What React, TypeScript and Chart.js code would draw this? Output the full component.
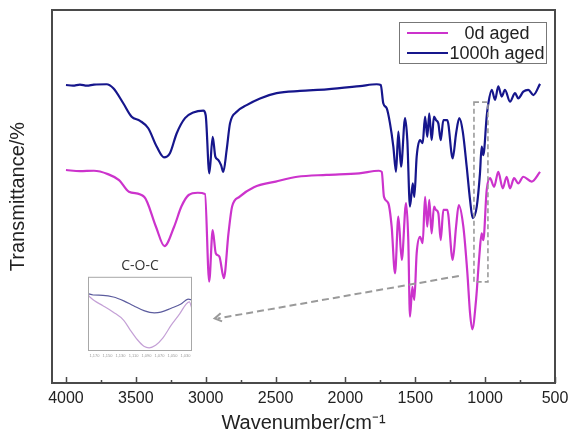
import React, { useEffect, useRef } from "react";
import { Chart, registerables } from "chart.js";

Chart.register(...registerables);

// ---------- data ----------
const seriesLabels = ["0d aged", "1000h aged"];

const wavenumbers0d = [
  4000, 3900, 3800, 3700, 3620, 3550, 3440, 3356, 3295, 3226, 3174, 3122, 3057, 3005,
  2975, 2950, 2928, 2902, 2870, 2837, 2811, 2759, 2655, 2499, 2344, 2136, 1902, 1760,
  1740, 1724, 1693, 1669, 1645, 1621, 1597, 1566, 1550, 1538, 1521, 1507, 1490, 1466,
  1447, 1430, 1414, 1400, 1383, 1366, 1352, 1335, 1318, 1299, 1271, 1232, 1208, 1189,
  1156, 1127, 1108, 1092, 1065, 1042, 1025, 1013, 989, 965, 936, 906, 874, 846, 822,
  793, 763, 727, 667, 607,
];
const values0d = [
  57.1, 56.8, 56.9, 56.0, 54.4, 51.3, 49.9, 41.9, 36.7, 41.9, 47.3, 50.4, 51.0, 50.7,
  27.2, 41.0, 34.8, 33.9, 28.1, 40.1, 47.3, 49.9, 52.5, 54.0, 55.3, 55.8, 56.2, 56.9,
  56.6, 49.9, 48.2, 41.9, 29.4, 44.6, 33.0, 48.2, 38.3, 17.8, 25.8, 22.3, 34.8, 39.2,
  37.5, 49.9, 41.9, 49.1, 40.1, 47.3, 46.4, 45.5, 38.3, 46.4, 46.4, 33.0, 41.9, 47.7,
  41.9, 29.4, 18.7, 14.4, 22.3, 33.9, 40.1, 38.3, 51.7, 54.9, 52.6, 56.6, 52.2, 55.3, 52.2,
  54.9, 53.5, 55.3, 54.0, 56.6,
];

const wavenumbers1000h = [
  4000, 3950, 3900, 3850, 3800, 3709, 3661, 3590, 3530, 3470, 3411, 3351, 3299, 3256,
  3208, 3148, 3089, 3017, 3000, 2974, 2950, 2931, 2910, 2890, 2874, 2850, 2826, 2778,
  2707, 2611, 2492, 2325, 2134, 1896, 1776, 1747, 1729, 1704, 1681, 1657, 1638, 1621,
  1602, 1573, 1557, 1538, 1518, 1507, 1490, 1466, 1447, 1430, 1414, 1400, 1383, 1366,
  1352, 1335, 1318, 1299, 1271, 1232, 1208, 1185, 1160, 1132, 1108, 1089, 1060, 1037,
  1025, 1013, 989, 977, 953, 929, 906, 881, 858, 822, 786, 763, 727, 691, 655, 607,
];
const values1000h = [
  79.9, 79.7, 80.0, 79.7, 80.0, 80.1, 79.0, 75.0, 71.4, 70.3, 68.3, 63.4, 60.5, 61.6,
  66.9, 71.0, 72.5, 73.0, 71.8, 56.2, 66.0, 60.7, 59.8, 58.4, 56.6, 62.5, 69.6, 72.7,
  74.5, 76.3, 77.7, 78.3, 78.7, 79.6, 80.1, 79.9, 75.0, 73.6, 69.6, 63.4, 56.6, 67.4,
  58.0, 71.0, 65.1, 47.3, 53.5, 49.9, 60.7, 65.1, 64.3, 71.4, 66.0, 72.3, 65.1, 71.4,
  70.5, 69.6, 65.1, 70.5, 70.5, 60.2, 66.9, 71.0, 67.4, 58.0, 49.1, 44.2, 47.3, 56.2,
  63.4, 61.1, 71.4, 75.0, 78.6, 75.9, 79.5, 76.8, 78.6, 75.4, 77.7, 76.3, 78.1, 78.6, 77.2, 80.2,
];

const xTickValues = [
  4000, 3750, 3500, 3250, 3000, 2750, 2500, 2250, 2000, 1750, 1500, 1250, 1000, 750, 500,
];

// inset (C-O-C region)
const insetTitle = "C-O-C";
const insetWavenumbers0d = [1180, 1170, 1157, 1141, 1125, 1115, 1104, 1094, 1086, 1076, 1065, 1052, 1039, 1029, 1024, 1020];
const insetValues0d = [74.3, 66.6, 59.9, 50.9, 39.6, 26.1, 12.6, 3.6, 1.4, 5.0, 14.9, 32.8, 48.6, 62.2, 65.3, 55.4];
const insetWavenumbers1000h = [1180, 1172, 1157, 1141, 1125, 1110, 1094, 1078, 1068, 1052, 1037, 1026, 1020];
const insetValues1000h = [76.6, 74.7, 74.3, 72.0, 66.6, 59.9, 53.1, 50.0, 50.9, 56.4, 62.2, 68.9, 68.0];
const insetTickValues = [1170, 1150, 1130, 1110, 1090, 1070, 1050, 1030];

// annotation (data units)
const zoomBox = { from: 1080, to: 980, top: 75.3, bottom: 27.1 };
const arrowFrom = { x: 1188, y: 28.7 };
const arrowTo = { x: 2936, y: 17.3 };

// ---------- styles ----------
const PINK = "#cc33cc";
const BLUE = "#16168c";
const FONT = "'Liberation Sans', Arial, sans-serif";
const TEXT = "#222222";

const framePlugin = {
  id: "frame",
  afterDraw(chart: any) {
    const { ctx, chartArea: a } = chart;
    const xs = chart.scales.x;
    ctx.save();
    const xp = (v: number) => xs.getPixelForValue(v);
    const yp = (v: number) => chart.scales.y.getPixelForValue(v);
    ctx.strokeStyle = "#9a9a9a";
    ctx.lineWidth = 1.6;
    ctx.setLineDash([5, 3]);
    ctx.strokeRect(xp(zoomBox.from), yp(zoomBox.top), xp(zoomBox.to) - xp(zoomBox.from), yp(zoomBox.bottom) - yp(zoomBox.top));
    ctx.lineWidth = 2;
    ctx.setLineDash([7, 4]);
    const x1 = xp(arrowFrom.x), y1 = yp(arrowFrom.y), x2 = xp(arrowTo.x), y2 = yp(arrowTo.y);
    ctx.beginPath();
    ctx.moveTo(x1, y1);
    ctx.lineTo(x2 + 3, y2);
    ctx.stroke();
    ctx.setLineDash([]);
    const ang = Math.atan2(y2 - y1, x2 - x1);
    const L = 8;
    ctx.beginPath();
    ctx.moveTo(x2 - L * Math.cos(ang - 0.55), y2 - L * Math.sin(ang - 0.55));
    ctx.lineTo(x2, y2);
    ctx.lineTo(x2 - L * Math.cos(ang + 0.55), y2 - L * Math.sin(ang + 0.55));
    ctx.stroke();
    ctx.strokeStyle = "#4a4a4a";
    ctx.lineWidth = 2;
    ctx.strokeRect(a.left, a.top, a.right - a.left, a.bottom - a.top);
    ctx.lineWidth = 1.5;
    ctx.beginPath();
    xs.ticks.forEach((t: any) => {
      const px = Math.round(xs.getPixelForValue(t.value)) + 0.5;
      const major = t.value % 500 === 0;
      ctx.moveTo(px, a.bottom);
      ctx.lineTo(px, a.bottom - (major ? 6 : 3));
    });
    ctx.stroke();
    ctx.restore();
  },
};

const legendPlugin = {
  id: "boxLegend",
  afterDraw(chart: any) {
    const { ctx, chartArea: a } = chart;
    const w = 147, h = 41;
    const x = a.right - 9 - w;
    const y = a.top + 12;
    ctx.save();
    ctx.fillStyle = "#ffffff";
    ctx.fillRect(x, y, w, h);
    ctx.strokeStyle = "#777777";
    ctx.lineWidth = 1;
    ctx.strokeRect(x + 0.5, y + 0.5, w, h);
    ctx.font = `18px ${FONT}`;
    ctx.textAlign = "center";
    ctx.textBaseline = "middle";
    chart.data.datasets.forEach((ds: any, i: number) => {
      const cy = y + 11 + i * 20;
      ctx.strokeStyle = ds.borderColor;
      ctx.lineWidth = 2;
      ctx.beginPath();
      ctx.moveTo(x + 8, cy);
      ctx.lineTo(x + 49, cy);
      ctx.stroke();
      ctx.fillStyle = TEXT;
      ctx.fillText(ds.label, x + 98, cy + 1);
    });
    ctx.restore();
  },
};

const insetFramePlugin = {
  id: "insetFrame",
  afterDraw(chart: any) {
    const { ctx, chartArea: a } = chart;
    ctx.save();
    ctx.strokeStyle = "#a8a8a8";
    ctx.lineWidth = 1;
    ctx.strokeRect(a.left + 0.5, a.top + 0.5, a.right - a.left - 1, a.bottom - a.top - 1);
    ctx.restore();
  },
};

export default function App() {
  const mainRef = useRef<HTMLCanvasElement>(null);
  const insetRef = useRef<HTMLCanvasElement>(null);

  useEffect(() => {
    const main = new Chart(mainRef.current!, {
      type: "line",
      data: {
        datasets: [
          {
            label: seriesLabels[0],
            data: wavenumbers0d.map((w, i) => ({ x: w, y: values0d[i] })),
            borderColor: PINK,
            borderWidth: 2.2,
            pointRadius: 0,
            cubicInterpolationMode: "monotone",
          },
          {
            label: seriesLabels[1],
            data: wavenumbers1000h.map((w, i) => ({ x: w, y: values1000h[i] })),
            borderColor: BLUE,
            borderWidth: 2.2,
            pointRadius: 0,
            cubicInterpolationMode: "monotone",
          },
        ],
      },
      options: {
        animation: false,
        responsive: false,
        devicePixelRatio: 1,
        layout: { padding: { top: 10, right: 14, left: 0, bottom: 0 } },
        plugins: { legend: { display: false }, tooltip: { enabled: false } },
        scales: {
          x: {
            type: "linear",
            reverse: true,
            min: 500,
            max: 4100,
            afterBuildTicks: (s: any) => {
              s.ticks = xTickValues.map((v) => ({ value: v }));
            },
            afterFit: (s: any) => {
              s.height = 50;
              s.paddingLeft = 0;
              s.paddingRight = 0;
            },
            grid: { display: false, drawTicks: false },
            border: { display: false },
            ticks: {
              autoSkip: false,
              maxRotation: 0,
              padding: 6,
              color: TEXT,
              font: { family: FONT, size: 16 },
              callback: (v: any) => (Number(v) % 500 === 0 ? String(v) : ""),
            },
            title: {
              display: true,
              text: "Wavenumber/cm⁻¹",
              color: TEXT,
              font: { family: FONT, size: 20, lineHeight: 1 },
              padding: { top: 0, bottom: 0 },
            },
          },
          y: {
            min: 0,
            max: 100,
            afterFit: (s: any) => {
              s.width = 52;
            },
            grid: { display: false, drawTicks: false },
            border: { display: false },
            ticks: { display: false },
            title: {
              display: true,
              text: "Transmittance/%",
              color: TEXT,
              font: { family: FONT, size: 20, lineHeight: 1.2 },
              padding: { top: 6, bottom: 0 },
            },
          },
        },
      },
      plugins: [framePlugin, legendPlugin],
    } as any);

    const inset = new Chart(insetRef.current!, {
      type: "line",
      data: {
        datasets: [
          {
            label: seriesLabels[0],
            data: insetWavenumbers0d.map((w, i) => ({ x: w, y: insetValues0d[i] })),
            borderColor: "#c4a0d6",
            borderWidth: 1.2,
            pointRadius: 0,
            cubicInterpolationMode: "monotone",
          },
          {
            label: seriesLabels[1],
            data: insetWavenumbers1000h.map((w, i) => ({ x: w, y: insetValues1000h[i] })),
            borderColor: "#5c5c9e",
            borderWidth: 1.2,
            pointRadius: 0,
            cubicInterpolationMode: "monotone",
          },
        ],
      },
      options: {
        animation: false,
        responsive: false,
        devicePixelRatio: 1,
        layout: { padding: 0 },
        plugins: {
          legend: { display: false },
          tooltip: { enabled: false },
          title: {
            display: true,
            text: insetTitle,
            color: "#333333",
            font: { family: "'Open Sans', sans-serif", size: 14, lineHeight: 1.2, weight: "normal" },
            padding: { top: 3, bottom: 2 },
          },
        },
        scales: {
          x: {
            type: "linear",
            reverse: true,
            min: 1020,
            max: 1180,
            afterBuildTicks: (s: any) => {
              s.ticks = insetTickValues.map((v) => ({ value: v }));
            },
            afterFit: (s: any) => {
              s.height = 12;
              s.paddingLeft = 0;
              s.paddingRight = 0;
            },
            grid: { display: false, drawTicks: false },
            border: { display: false },
            ticks: {
              autoSkip: false,
              maxRotation: 0,
              padding: 2,
              color: "#9a9a9a",
              font: { family: FONT, size: 4 },
            },
          },
          y: { display: false, min: -3, max: 100 },
        },
      },
      plugins: [insetFramePlugin],
    } as any);

    return () => {
      main.destroy();
      inset.destroy();
    };
  }, []);

  return (
    <div style={{ position: "absolute", left: 0, top: 0, width: 569, height: 433, background: "#fff" }}>
      <canvas ref={mainRef} width={569} height={433} style={{ position: "absolute", left: 0, top: 0, width: 569, height: 433 }} />
      <canvas ref={insetRef} width={104} height={108} style={{ position: "absolute", left: 88, top: 255, width: 104, height: 108 }} />
    </div>
  );
}
